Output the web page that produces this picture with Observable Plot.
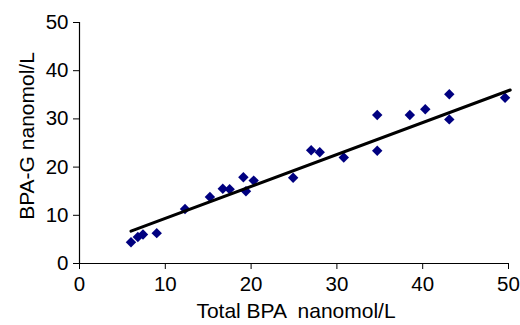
<!DOCTYPE html>
<html>
<head>
<meta charset="utf-8">
<script src="https://cdn.jsdelivr.net/npm/d3@7"></script>
<script src="https://cdn.jsdelivr.net/npm/@observablehq/plot@0.6"></script>
<style>
  html, body { margin: 0; padding: 0; background: #fff; }
  #chart svg { display: block; }
</style>
</head>
<body>
<div id="chart"></div>
<script>
const totalBPA = [6.0, 6.8, 7.4, 9.0, 12.3, 15.2, 16.7, 17.5, 19.1, 19.4, 20.3, 24.9, 27.0, 28.0, 30.8, 34.7, 34.7, 38.5, 40.3, 43.1, 43.1, 49.6];
const bpaG     = [4.4, 5.5, 6.0, 6.3, 11.3, 13.8, 15.5, 15.4, 17.9, 15.0, 17.2, 17.8, 23.5, 23.1, 22.0, 23.4, 30.8, 30.8, 32.0, 35.1, 29.9, 34.4];
// trend line as drawn in the reference
const trendX = [6.0, 50.2];
const trendY = [6.7, 36.0];
const xTicks = [0, 10, 20, 30, 40, 50];
const yTicks = [0, 10, 20, 30, 40, 50];
const xLabel = "Total BPA  nanomol/L";
const yLabel = "BPA-G nanomol/L";

const data = totalBPA.map((x, i) => ({x, y: bpaG[i]}));
const trend = trendX.map((x, i) => ({x, y: trendY[i]}));

const chart = Plot.plot({
  width: 520,
  height: 325,
  marginLeft: 79,
  marginRight: 12,
  marginTop: 22,
  marginBottom: 62,
  style: {fontFamily: "'Liberation Sans', Arial, sans-serif", fontSize: "20.5px", color: "#000", background: "#fff"},
  x: {domain: [0, 50], ticks: xTicks, label: null},
  y: {domain: [0, 50], ticks: yTicks, label: null},
  marks: [
    Plot.axisX({ticks: xTicks, tickSize: 6, tickPadding: 7, fontSize: 20.5, label: null}),
    Plot.axisY({ticks: yTicks, tickSize: 6, tickPadding: 5, fontSize: 20.5, label: null}),
    Plot.ruleX([0], {stroke: "#000", strokeWidth: 1.2}),
    Plot.ruleY([0], {stroke: "#000", strokeWidth: 1.2}),
    Plot.dot(data, {x: "x", y: "y", symbol: "diamond2", r: 4.7, fill: "#000080", stroke: "none"}),
    Plot.line(trend, {x: "x", y: "y", stroke: "#000", strokeWidth: 3}),
    Plot.text([xLabel], {frameAnchor: "bottom", lineAnchor: "bottom", dx: 2, dy: 54, fontSize: 21, fill: "#000"}),
    Plot.text([yLabel], {frameAnchor: "left", textAnchor: "middle", dx: -52, dy: -7, rotate: -90, fontSize: 21, fill: "#000"})
  ]
});
document.getElementById("chart").appendChild(chart);
</script>
</body>
</html>
